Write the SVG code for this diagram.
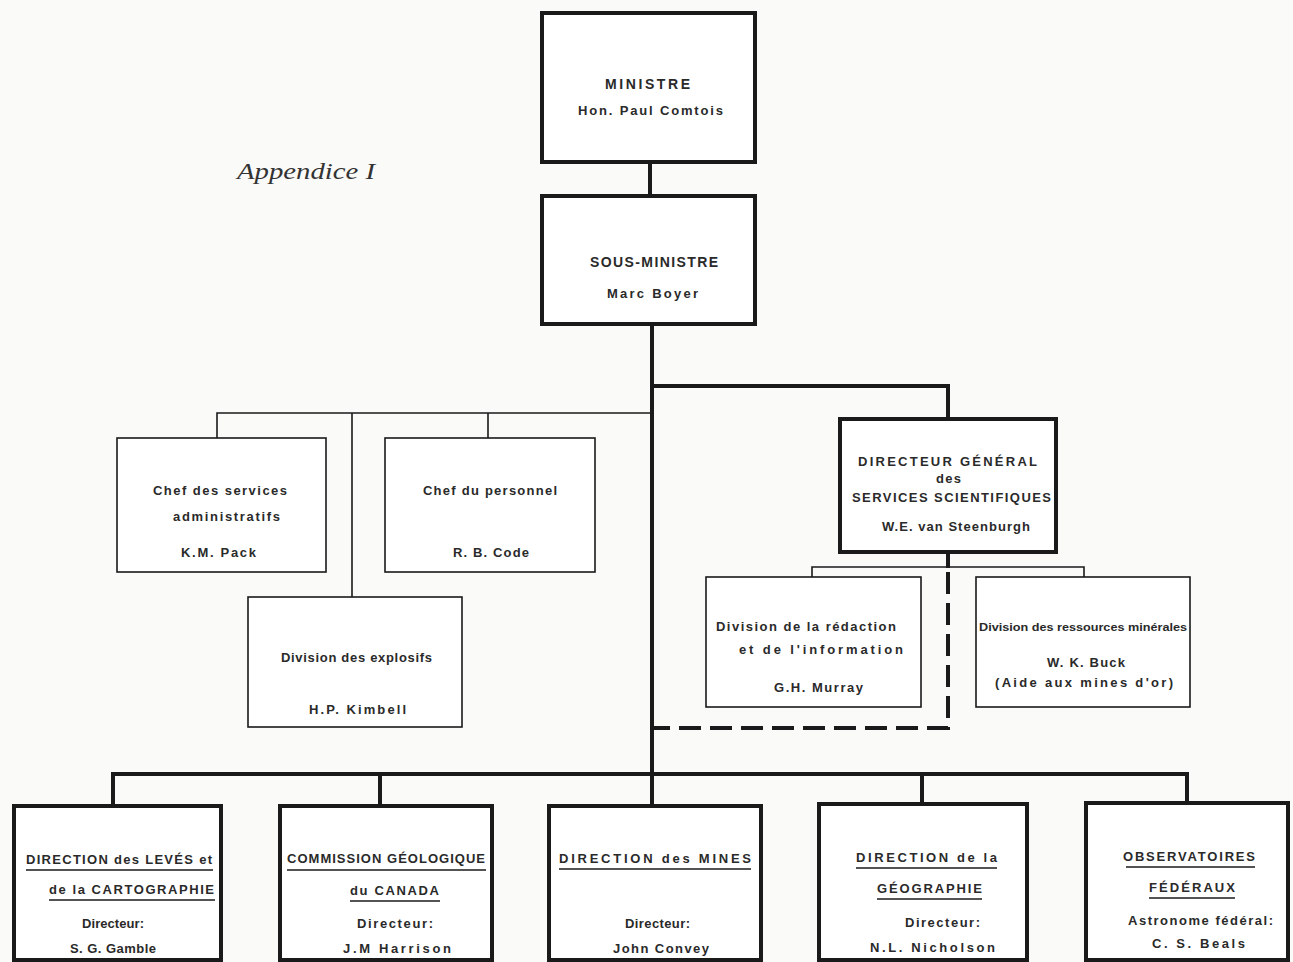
<svg xmlns="http://www.w3.org/2000/svg" width="1293" height="962" viewBox="0 0 1293 962">
<style>
.bg{fill:#fafaf8}
.thick{fill:#fff;stroke:#1a1a1a;stroke-width:4}
.thin{fill:#fff;stroke:#1a1a1a;stroke-width:1.6}
.c4{fill:none;stroke:#1a1a1a;stroke-width:4}
.c1{fill:none;stroke:#1a1a1a;stroke-width:1.6}
.dash{fill:none;stroke:#1a1a1a;stroke-width:4;stroke-dasharray:22 9}
.ul{stroke:#1a1a1a;stroke-width:1.5}
text{font-family:"Liberation Sans",Arial,sans-serif;font-weight:bold;fill:#2a2a2a;font-size:13px}
.big{font-size:14px}
.sm{font-size:11px}
.title{font-family:"Liberation Serif","Times New Roman",serif;font-style:italic;font-weight:normal;font-size:24px;fill:#333}
</style>
<rect class="bg" x="0" y="0" width="1293" height="962"/>
<text class="title" x="237" y="179" textLength="138" lengthAdjust="spacingAndGlyphs">Appendice I</text>

<g id="connectors">
<path class="c4" d="M650 162 V196"/>
<path class="c4" d="M652 324 V806"/>
<path class="c4" d="M652 386 H948 V419"/>
<path class="c1" d="M652 413 H217 V438 M352 413 V597 M488 413 V438"/>
<path class="c4" d="M948 552 V568"/>
<path class="c1" d="M812 577 V567 H1084 V577"/>
<path class="dash" d="M948 572 V728 H654"/>
<path class="c4" d="M113 806 V774 H1187 V803 M380 774 V806 M922 774 V804"/>
</g>

<g id="ministre">
<rect class="thick" x="542" y="13" width="213" height="149"/>
<text class="big" x="605" y="89" textLength="85" lengthAdjust="spacing">MINISTRE</text>
<text x="578" y="115" textLength="145" lengthAdjust="spacing">Hon. Paul Comtois</text>
</g>

<g id="sous-ministre">
<rect class="thick" x="542" y="196" width="213" height="128"/>
<text class="big" x="590" y="267" textLength="128" lengthAdjust="spacing">SOUS-MINISTRE</text>
<text x="607" y="298" textLength="91" lengthAdjust="spacing">Marc Boyer</text>
</g>

<g id="chef-services">
<rect class="thin" x="117" y="438" width="209" height="134"/>
<text x="153" y="495" textLength="134" lengthAdjust="spacing">Chef des services</text>
<text x="173" y="521" textLength="107" lengthAdjust="spacing">administratifs</text>
<text x="181" y="557" textLength="75" lengthAdjust="spacing">K.M. Pack</text>
</g>

<g id="chef-personnel">
<rect class="thin" x="385" y="438" width="210" height="134"/>
<text x="423" y="495" textLength="134" lengthAdjust="spacing">Chef du personnel</text>
<text x="453" y="557" textLength="76" lengthAdjust="spacing">R. B. Code</text>
</g>

<g id="explosifs">
<rect class="thin" x="248" y="597" width="214" height="130"/>
<text x="281" y="662" textLength="151" lengthAdjust="spacing">Division des explosifs</text>
<text x="309" y="714" textLength="97" lengthAdjust="spacing">H.P. Kimbell</text>
</g>

<g id="directeur-general">
<rect class="thick" x="840" y="419" width="216" height="133"/>
<text x="858" y="466" textLength="179" lengthAdjust="spacing">DIRECTEUR GÉNÉRAL</text>
<text x="936" y="483" textLength="25" lengthAdjust="spacing">des</text>
<text x="852" y="502" textLength="199" lengthAdjust="spacing">SERVICES SCIENTIFIQUES</text>
<text x="882" y="531" textLength="148" lengthAdjust="spacing">W.E. van Steenburgh</text>
</g>

<g id="redaction">
<rect class="thin" x="706" y="577" width="215" height="130"/>
<text x="716" y="631" textLength="180" lengthAdjust="spacing">Division de la rédaction</text>
<text x="739" y="654" textLength="164" lengthAdjust="spacing">et de l'information</text>
<text x="774" y="692" textLength="89" lengthAdjust="spacing">G.H. Murray</text>
</g>

<g id="ressources">
<rect class="thin" x="976" y="577" width="214" height="130"/>
<text class="sm" x="979" y="631" textLength="208" lengthAdjust="spacingAndGlyphs">Division des ressources minérales</text>
<text x="1047" y="667" textLength="78" lengthAdjust="spacing">W. K. Buck</text>
<text x="995" y="687" textLength="178" lengthAdjust="spacing">(Aide aux mines d'or)</text>
</g>

<g id="leves">
<rect class="thick" x="14" y="806" width="207" height="154"/>
<text x="26" y="864" textLength="186" lengthAdjust="spacing">DIRECTION des LEVÉS et</text>
<line class="ul" x1="26" y1="870" x2="213" y2="870"/>
<text x="49" y="894" textLength="165" lengthAdjust="spacing">de la CARTOGRAPHIE</text>
<line class="ul" x1="49" y1="900" x2="215" y2="900"/>
<text x="82" y="928" textLength="62" lengthAdjust="spacing">Directeur:</text>
<text x="70" y="953" textLength="86" lengthAdjust="spacing">S. G. Gamble</text>
</g>

<g id="geologique">
<rect class="thick" x="280" y="806" width="212" height="154"/>
<text x="287" y="863" textLength="198" lengthAdjust="spacing">COMMISSION   GÉOLOGIQUE</text>
<line class="ul" x1="287" y1="870" x2="486" y2="870"/>
<text x="350" y="895" textLength="89" lengthAdjust="spacing">du CANADA</text>
<line class="ul" x1="350" y1="901" x2="440" y2="901"/>
<text x="357" y="928" textLength="76" lengthAdjust="spacing">Directeur:</text>
<text x="343" y="953" textLength="108" lengthAdjust="spacing">J.M Harrison</text>
</g>

<g id="mines">
<rect class="thick" x="549" y="806" width="212" height="154"/>
<text x="559" y="863" textLength="192" lengthAdjust="spacing">DIRECTION  des  MINES</text>
<line class="ul" x1="559" y1="869" x2="751" y2="869"/>
<text x="625" y="928" textLength="65" lengthAdjust="spacing">Directeur:</text>
<text x="613" y="953" textLength="96" lengthAdjust="spacing">John Convey</text>
</g>

<g id="geographie">
<rect class="thick" x="819" y="804" width="208" height="156"/>
<text x="856" y="862" textLength="141" lengthAdjust="spacing">DIRECTION de la</text>
<line class="ul" x1="856" y1="868" x2="997" y2="868"/>
<text x="877" y="893" textLength="105" lengthAdjust="spacing">GÉOGRAPHIE</text>
<line class="ul" x1="877" y1="899" x2="982" y2="899"/>
<text x="905" y="927" textLength="75" lengthAdjust="spacing">Directeur:</text>
<text x="870" y="952" textLength="125" lengthAdjust="spacing">N.L.  Nicholson</text>
</g>

<g id="observatoires">
<rect class="thick" x="1086" y="803" width="202" height="157"/>
<text x="1123" y="861" textLength="132" lengthAdjust="spacing">OBSERVATOIRES</text>
<line class="ul" x1="1126" y1="867" x2="1255" y2="867"/>
<text x="1149" y="892" textLength="86" lengthAdjust="spacing">FÉDÉRAUX</text>
<line class="ul" x1="1149" y1="898" x2="1235" y2="898"/>
<text x="1128" y="925" textLength="145" lengthAdjust="spacing">Astronome fédéral:</text>
<text x="1152" y="948" textLength="93" lengthAdjust="spacing">C. S. Beals</text>
</g>
</svg>
